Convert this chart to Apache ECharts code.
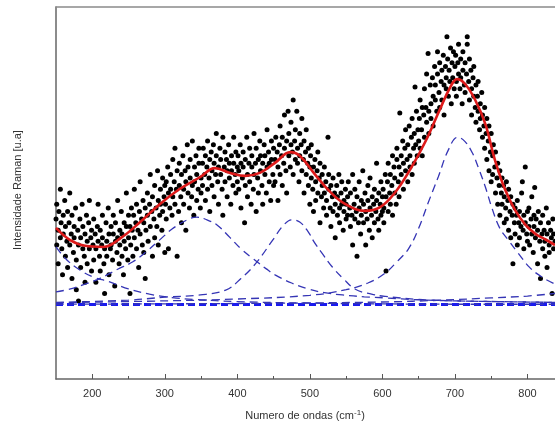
<!DOCTYPE html>
<html>
<head>
<meta charset="utf-8">
<script src="https://cdn.jsdelivr.net/npm/echarts@6/dist/echarts.min.js"></script>
<style>
html,body{margin:0;padding:0;background:#fff;}
#chart{width:555px;height:424px;}
</style>
</head>
<body>
<div id="chart"></div>
<script>
// x tick labels
const xTickLabels = [200, 300, 400, 500, 600, 700, 800];
const xMinorTicks = [250, 350, 450, 550, 650, 750];

// Raman spectrum scatter points [wavenumber, intensity] grouped by region
const pts150 = [[150,43],[151,36],[151,47],[153,40],[153,31],[154,45],[156,38],[156,51],[157,42],[158,35],[159,28],[160,44],[160,39],[162,48],[163,33],[163,41],[165,37],[166,45],[166,30],[168,42],[169,36],[169,50],[171,39],[172,27],[172,44],[174,34],[175,41],[175,38],[177,46],[178,32],[178,24],[180,40],[181,36],[181,21],[183,43],[184,30],[184,38],[186,47],[187,35],[187,41],[189,33],[190,26],[190,39],[192,44],[193,37],[193,31],[195,42],[196,35],[196,48],[198,38],[199,29],[199,40]];
const pts200 = [[201,36],[202,43],[202,32],[204,39],[205,26],[205,35],[207,41],[208,37],[208,47],[210,33],[211,40],[211,29],[213,36],[214,44],[214,38],[216,31],[217,35],[217,23],[219,42],[220,37],[220,33],[222,46],[223,39],[223,28],[225,35],[226,41],[226,36],[228,32],[229,44],[229,39],[231,25],[232,37],[232,42],[234,34],[235,48],[235,38],[237,31],[238,40],[238,36],[240,45],[241,33],[241,39],[243,28],[244,42],[244,37],[246,35],[247,50],[247,41],[249,32],[250,44],[250,38]];
const pts250 = [[252,23],[252,41],[253,36],[254,46],[255,40],[256,33],[257,44],[258,38],[258,51],[260,42],[261,35],[261,47],[263,40],[264,30],[265,45],[266,39],[266,53],[268,43],[269,36],[270,48],[271,42],[271,34],[273,27],[273,46],[274,40],[276,50],[276,44],[277,37],[279,47],[280,41],[280,55],[282,45],[283,33],[283,49],[285,43],[286,38],[286,52],[288,46],[289,41],[290,56],[291,48],[291,36],[293,44],[294,51],[294,47],[296,40],[297,54],[297,45],[299,49],[300,34],[300,52]];
const pts300 = [[301,47],[302,53],[302,43],[304,57],[305,50],[305,35],[307,46],[308,55],[308,51],[310,44],[311,59],[311,49],[313,53],[314,47],[314,62],[316,51],[317,33],[317,56],[319,45],[320,52],[320,58],[322,49],[323,42],[323,55],[325,60],[326,51],[326,47],[328,56],[329,53],[329,40],[331,63],[332,50],[332,57],[334,46],[335,54],[335,59],[337,49],[338,52],[338,64],[340,44],[341,57],[341,53],[343,60],[344,48],[344,55],[346,51],[347,62],[347,58],[349,46],[350,54],[350,50]];
const pts350 = [[352,58],[352,52],[353,62],[355,55],[356,48],[356,60],[358,57],[359,64],[359,51],[361,54],[362,59],[362,45],[364,61],[365,56],[365,52],[367,63],[368,58],[368,49],[370,55],[371,66],[371,60],[373,53],[374,57],[374,47],[376,62],[377,55],[377,59],[379,51],[380,65],[380,44],[382,57],[383,61],[383,53],[385,59],[386,49],[386,56],[388,63],[389,54],[389,58],[391,47],[392,60],[392,56],[394,52],[395,65],[395,58],[397,55],[398,50],[398,61],[400,57],[400,53]];
const pts400 = [[401,60],[402,51],[402,56],[404,63],[405,58],[405,46],[407,54],[408,61],[408,57],[410,42],[411,59],[411,52],[413,65],[414,55],[414,49],[416,58],[417,62],[417,53],[419,47],[420,57],[420,60],[422,51],[423,66],[423,55],[425,58],[426,45],[426,62],[428,54],[429,59],[429,50],[431,64],[432,56],[432,60],[434,52],[435,58],[435,47],[437,63],[438,55],[438,60],[440,50],[441,67],[441,57],[443,61],[444,53],[444,58],[446,48],[447,64],[447,59],[449,55],[450,62],[450,52]];
const pts450 = [[452,59],[452,53],[453,65],[455,61],[456,48],[456,57],[458,63],[459,68],[459,55],[461,60],[462,52],[462,65],[464,58],[465,71],[465,62],[467,56],[468,64],[468,50],[470,72],[471,60],[471,66],[473,57],[474,63],[474,69],[476,61],[477,75],[477,55],[479,64],[480,59],[480,67],[482,72],[483,58],[483,62],[485,53],[486,66],[486,60],[488,63],[489,56],[489,70],[491,59],[492,64],[492,50],[494,61],[495,55],[495,67],[497,58],[498,52],[498,62],[500,47],[500,57]];
const pts500 = [[501,60],[502,54],[502,63],[504,51],[505,57],[505,45],[507,59],[508,53],[508,48],[510,56],[511,61],[511,50],[513,54],[514,42],[514,58],[516,49],[517,55],[517,52],[519,46],[520,57],[520,50],[522,53],[523,44],[523,48],[525,65],[526,51],[526,55],[528,46],[529,52],[529,41],[531,49],[532,54],[532,45],[534,50],[535,38],[535,47],[537,52],[538,44],[538,49],[540,55],[541,46],[541,42],[543,50],[544,47],[544,53],[546,40],[547,48],[547,45],[549,51],[550,43],[550,47]];
const pts550 = [[552,49],[552,44],[553,53],[555,46],[556,41],[556,50],[558,44],[559,55],[559,36],[561,47],[562,43],[562,51],[564,45],[565,33],[565,49],[567,42],[568,53],[568,46],[570,39],[571,48],[571,44],[573,56],[574,42],[574,47],[576,50],[577,36],[577,45],[579,43],[580,52],[580,48],[582,40],[583,46],[583,54],[585,44],[586,49],[586,38],[588,47],[589,42],[589,51],[591,45],[592,58],[592,48],[594,43],[595,50],[595,40],[597,47],[598,53],[598,44],[600,49],[600,45]];
const pts600 = [[601,51],[602,46],[602,42],[604,55],[605,49],[605,29],[607,53],[608,45],[608,58],[610,50],[611,47],[611,55],[613,52],[614,60],[614,44],[616,57],[617,50],[617,54],[619,47],[620,59],[620,62],[622,53],[623,57],[623,49],[624,71.5],[626,60],[626,55],[628,64],[629,51],[629,58],[631,62],[632,56],[632,67],[634,59],[635,53],[635,63],[637,68],[638,60],[638,57],[640,65],[641,55],[641,70],[643,62],[644,58],[644,66],[645,78.5],[646,63],[647,72],[648,60],[649,67],[650,64]];
const pts650 = [[651,70],[652,62],[652,75],[654,67],[655,73],[655,60],[657,71],[658,78],[658,65],[660,73],[661,69],[661,82],[663,87.5],[664,72],[664,66],[666,79],[667,74],[667,70],[669,81],[670,76],[670,68],[672,84],[673,75],[673,79],[675,72],[676,88],[676,82],[678,77],[679,85],[679,73],[681,80],[682,83],[682,75],[684,87],[685,79],[685,71],[687,84],[688,78],[688,81],[689,92],[690,86],[691,76],[692,83],[693,80],[694,89],[695,74],[696,85],[697,81],[698,88],[699,78],[700,84]];
const pts700 = [[701,87],[702,80],[702,76],[704,85],[705,82],[705,90],[707,78],[708,86],[708,81],[710,74],[711,88],[711,83],[713,79],[714,85],[714,77],[716,82],[717,92],[717,90],[719,80],[720,86],[720,75],[722,83],[723,78],[723,71],[725,81],[726,76],[726,84],[728,73],[729,79],[729,69],[731,76],[732,72],[732,80],[734,67],[735,74],[735,70],[737,77],[738,65],[738,71],[740,68],[741,62],[741,73],[743,66],[744,70],[744,59],[746,64],[747,68],[747,56],[749,61],[750,66],[750,53]];
const pts750 = [[752,60],[752,55],[753,63],[755,57],[756,50],[756,61],[758,54],[759,58],[759,47],[761,52],[762,56],[762,44],[764,50],[765,54],[765,47],[767,52],[768,42],[768,49],[770,46],[771,53],[771,43],[773,48],[774,40],[774,51],[776,45],[777,49],[777,38],[779,44],[780,31],[780,47],[782,42],[783,46],[783,39],[785,44],[786,36],[786,48],[788,42],[789,45],[789,38],[791,41],[792,50],[793,53],[794,40],[795,44],[795,35],[797,57],[797,42],[799,39],[800,45],[800,37]];
const pts800 = [[802,41],[802,46],[803,36],[805,43],[806,39],[806,49],[808,34],[809,41],[809,44],[810,51.5],[811,38],[812,43],[814,31],[814,40],[815,45],[817,37],[818,27],[818,42],[820,39],[821,35],[821,44],[823,40],[824,33],[824,37],[826,46],[827,39],[827,30],[829,42],[830,36],[830,34],[832,40],[833,38],[834,23],[835,43],[836,35],[836,39],[838,37]];

// Cumulative fit (red)
const fitTotal = [[150,40.6],[169,37.4],[190,35.8],[215,35.5],[240,38],[265,42],[293,47],[320,51],[349,54.3],[369,56.7],[390,55.4],[411,54.6],[431,55.4],[452,58.1],[473,61],[486,60],[507,55],[528,50.3],[549,47],[576,45.2],[597,46.2],[617,50],[638,56.2],[659,63.7],[680,72.8],[693,78.2],[703,80.6],[714,79.3],[728,75],[742,68.5],[755,59],[769,51],[783,45.4],[797,41.5],[811,39],[825,37.5],[838,36]];

// Component peaks (blue dashed)
const peakA = [[150,35.5],[165,32],[183,29.3],[200,27.5],[224,26.1],[250,24.2],[279,22.8],[310,21.9],[340,21.4],[400,20.8],[500,20.4],[600,20.2],[700,20.1],[838,20.1]];
const peakB = [[150,23.4],[170,24.2],[187,25.3],[210,27],[235,29.5],[256,31.5],[275,34.3],[293,37.4],[310,40.3],[330,42.7],[344,43.5],[358,42.8],[372,41.4],[390,38],[405,35],[422,32.3],[440,29.6],[452,28],[475,25.8],[498,24.2],[520,23.2],[545,22.6],[575,22.1],[604,21.8],[650,21.3],[700,21],[760,20.8],[838,20.6]];
const peakC = [[150,20.6],[250,21.2],[300,22],[349,22.6],[384,23.9],[405,27],[426,31.2],[449,37.4],[464,41.4],[475,42.8],[486,42.2],[498,39.5],[506,36.8],[518,33.5],[531,30.1],[546,27],[562,24.2],[585,22.8],[604,22.2],[650,21.4],[700,21],[838,20.6]];
const peakD = [[150,20.5],[300,21],[400,21.5],[500,22.5],[550,24],[580,25.8],[604,28.5],[620,31.5],[636,35],[650,40.5],[663,47.3],[677,54.3],[691,61.6],[704,65],[714,63.8],[724,60.8],[733,56.5],[742,51.6],[751,46],[762,40.5],[775,37],[787,33.9],[803,30],[820,27.4],[838,25.5]];
const peakE = [[150,20.1],[400,20.3],[600,20.7],[682,21.2],[750,21.8],[800,22.3],[838,23]];
const baseline = [[150,20],[838,20]];

const ramanPoints = [].concat(pts150, pts200, pts250, pts300, pts350, pts400, pts450, pts500, pts550, pts600, pts650, pts700, pts750, pts800);

const chart = echarts.init(document.getElementById('chart'), null, {renderer: 'canvas'});
const FONT = '"Liberation Sans", Arial, sans-serif';
const dashLine = (data, name) => ({
  name, type: 'line', data, smooth: 0.4, symbol: 'none', silent: true,
  lineStyle: {color: '#3535b5', width: 1.3, type: [8, 5]}, z: 3
});

chart.setOption({
  animation: false,
  backgroundColor: '#fff',
  grid: {left: 56, top: 7, right: 0, bottom: 45, show: false},
  xAxis: [{
    type: 'value', min: 150, max: 838,
    splitLine: {show: false},
    axisLine: {show: true, lineStyle: {color: '#666', width: 1.5}},
    axisTick: {show: true, inside: true, length: 5, customValues: xTickLabels, lineStyle: {color: '#555'}},
    axisLabel: {customValues: xTickLabels, color: '#333', fontSize: 11, fontFamily: FONT, margin: 9}
  }, {
    type: 'value', min: 150, max: 838, position: 'bottom',
    splitLine: {show: false},
    axisLine: {show: false},
    axisTick: {show: true, inside: true, length: 3, customValues: xMinorTicks, lineStyle: {color: '#555'}},
    axisLabel: {show: false}
  }, {
    type: 'value', min: 150, max: 838, position: 'top',
    splitLine: {show: false},
    axisLine: {show: true, lineStyle: {color: '#8a8a8a', width: 1.5}},
    axisTick: {show: false},
    axisLabel: {show: false}
  }],
  yAxis: {
    type: 'value', min: 0, max: 100,
    splitLine: {show: false},
    axisLine: {show: true, lineStyle: {color: '#666', width: 1.5}},
    axisTick: {show: false},
    axisLabel: {show: false}
  },
  graphic: [
    {type: 'text', x: 18, y: 190, rotation: Math.PI / 2,
     style: {text: 'Intensidade Raman [u.a]', fill: '#333', font: '11px ' + FONT, align: 'center', verticalAlign: 'middle'}},
    {type: 'text', x: 305, y: 416,
     style: {text: 'Numero de ondas (cm{sup|-1})', fill: '#333', font: '11px ' + FONT, align: 'center', verticalAlign: 'middle',
       rich: {sup: {fontSize: 8, fontFamily: FONT, fill: '#333', verticalAlign: 'top', padding: [0, 0, 6, 0]}}}}
  ],
  series: [
    {type: 'scatter', data: ramanPoints, symbolSize: 5, itemStyle: {color: '#000', opacity: 1}, silent: true, z: 2},
    {type: 'line', data: baseline, symbol: 'none', silent: true,
     lineStyle: {color: '#1a1af0', width: 3, type: [7, 4]}, z: 3},
    dashLine(peakA, 'A'), dashLine(peakB, 'B'), dashLine(peakC, 'C'), dashLine(peakD, 'D'), dashLine(peakE, 'E'),
    {type: 'line', data: fitTotal, smooth: 0.4, symbol: 'none', silent: true,
     lineStyle: {color: '#dd1a1a', width: 2.6}, z: 4}
  ]
});
</script>
</body>
</html>
